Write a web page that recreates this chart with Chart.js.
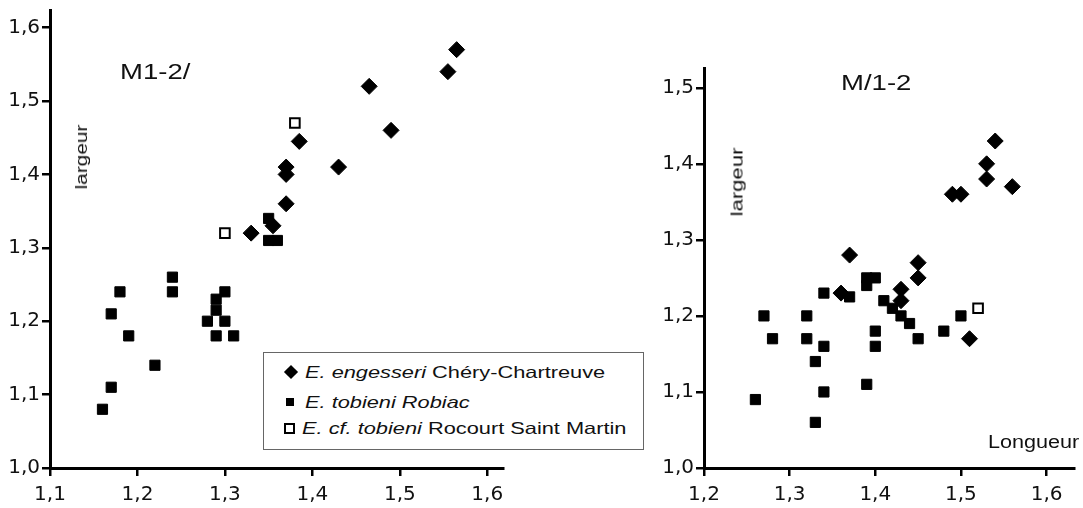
<!DOCTYPE html>
<html>
<head>
<meta charset="utf-8">
<script src="https://cdn.jsdelivr.net/npm/chart.js@4/dist/chart.umd.min.js"></script>
<style>
  html, body { margin: 0; padding: 0; background: #fff; }
  #wrap { position: relative; width: 1083px; height: 508px; overflow: hidden; background: #fff; }
  canvas { position: absolute; top: 0; }
  .txt { position: absolute; font-family: "Liberation Sans", Arial, sans-serif; color: #111; white-space: nowrap; line-height: 1; transform-origin: 0 0; }
  .rot { position: absolute; font-family: "Liberation Sans", Arial, sans-serif; color: #111; white-space: nowrap; line-height: 1; }
  #legend { position: absolute; left: 263px; top: 352px; width: 381px; height: 98px; border: 1px solid #666; background: #fff; box-sizing: border-box; }
  .lg { position: absolute; font-family: "Liberation Sans", Arial, sans-serif; font-size: 16.5px; line-height: 1; color: #111; white-space: nowrap; transform-origin: 0 0; transform: scaleX(1.32); }
  .mk { position: absolute; box-sizing: border-box; }
</style>
</head>
<body>
<div id="wrap">
  <canvas id="cLeft" width="560" height="508" style="left:0;width:560px;height:508px"></canvas>
  <canvas id="cRight" width="483" height="508" style="left:600px;width:483px;height:508px"></canvas>

  <div class="txt" style="left:120px;top:62px;font-size:21.5px;transform:scaleX(1.28)">M1-2/</div>
  <div class="txt" style="left:841px;top:73px;font-size:21.5px;transform:scaleX(1.28)">M/1-2</div>
  <div class="rot" style="left:82px;top:157px;font-size:16px;transform:translate(-50%,-50%) rotate(-90deg) scaleX(1.3)">largeur</div>
  <div class="rot" style="left:737px;top:182px;font-size:17px;transform:translate(-50%,-50%) rotate(-90deg) scaleX(1.3)">largeur</div>
  <div class="txt" style="left:988px;top:433px;font-size:18px;transform:scaleX(1.2)">Longueur</div>

  <div id="legend">
    <div class="mk" style="left:22px;top:14px;width:10px;height:10px;background:#000;transform:rotate(45deg)"></div>
    <div class="lg" style="left:41px;top:11px"><i>E. engesseri</i> Chéry-Chartreuve</div>
    <div class="mk" style="left:22px;top:45px;width:8px;height:8px;background:#000"></div>
    <div class="lg" style="left:41px;top:41px"><i>E. tobieni Robiac</i></div>
    <div class="mk" style="left:20px;top:70px;width:11px;height:11px;border:2px solid #000;background:#fff"></div>
    <div class="lg" style="left:38px;top:67px"><i>E. cf. tobieni</i> Rocourt Saint Martin</div>
  </div>
</div>
<script>
// ---- Data: M1-2/ (left panel) [longueur, largeur]
const m12Engesseri = [[1.565,1.57],[1.555,1.54],[1.465,1.52],[1.49,1.46],[1.43,1.41],[1.385,1.445],[1.37,1.41],[1.37,1.40],[1.37,1.36],[1.355,1.33],[1.33,1.32]];
const m12Tobieni = [[1.35,1.34],[1.35,1.31],[1.36,1.31],[1.24,1.26],[1.24,1.24],[1.18,1.24],[1.17,1.21],[1.19,1.18],[1.22,1.14],[1.17,1.11],[1.16,1.08],[1.30,1.24],[1.29,1.23],[1.29,1.215],[1.28,1.20],[1.30,1.20],[1.29,1.18],[1.31,1.18]];
const m12CfTobieni = [[1.38,1.47],[1.30,1.32]];

// ---- Data: M/1-2 (right panel)
const m_12Engesseri = [[1.54,1.43],[1.53,1.40],[1.53,1.38],[1.56,1.37],[1.49,1.36],[1.50,1.36],[1.37,1.28],[1.45,1.27],[1.45,1.25],[1.43,1.235],[1.43,1.22],[1.36,1.23],[1.51,1.17]];
const m_12Tobieni = [[1.26,1.09],[1.27,1.20],[1.28,1.17],[1.32,1.20],[1.32,1.17],[1.34,1.16],[1.33,1.14],[1.34,1.10],[1.33,1.06],[1.34,1.23],[1.37,1.225],[1.39,1.25],[1.39,1.24],[1.40,1.25],[1.40,1.18],[1.40,1.16],[1.39,1.11],[1.41,1.22],[1.42,1.21],[1.43,1.20],[1.44,1.19],[1.45,1.17],[1.48,1.18],[1.50,1.20]];
const m_12CfTobieni = [[1.52,1.21]];

// ---- Axis ranges / ticks
const leftXRange = [1.1, 1.618];
const leftYRange = [1.0, 1.624];
const rightXRange = [1.2, 1.632];
const rightYRange = [1.0, 1.526];
const tickStep = 0.1;

const toPts = arr => arr.map(p => ({x: p[0], y: p[1]}));
const fmt = v => Number(v).toFixed(1).replace('.', ',');
const tickFont = {family: 'DejaVu Sans', size: 20};

function datasets(eng, tob, cf) {
  return [
    {label: 'E. engesseri Chéry-Chartreuve', data: toPts(eng), pointStyle: 'rectRot', pointRadius: 8, backgroundColor: '#000', borderColor: '#000', borderWidth: 1},
    {label: 'E. tobieni Robiac', data: toPts(tob), pointStyle: 'rect', pointRadius: 7.2, backgroundColor: '#000', borderColor: '#000', borderWidth: 1},
    {label: 'E. cf. tobieni Rocourt Saint Martin', data: toPts(cf), pointStyle: 'rect', pointRadius: 6.8, backgroundColor: '#fff', borderColor: '#000', borderWidth: 2}
  ];
}

function axis(range, isY, fitSize, pad) {
  return {
    type: 'linear', min: range[0], max: range[1],
    ticks: {stepSize: tickStep, includeBounds: false, autoSkip: false, font: tickFont, color: '#111', padding: pad, callback: v => fmt(v), maxRotation: 0},
    grid: {display: true, drawOnChartArea: false, drawTicks: true, tickLength: 8, color: '#000', lineWidth: 2.5},
    border: {display: true, color: '#000', width: 3},
    afterFit: s => {
      if (isY) s.width = fitSize; else s.height = fitSize;
      s.paddingTop = 0; s.paddingBottom = 0; s.paddingLeft = 0; s.paddingRight = 0;
    }
  };
}

function make(id, ds, xr, yr, yWidth, padding) {
  return new Chart(document.getElementById(id), {
    type: 'scatter',
    data: {datasets: ds},
    options: {
      responsive: false, animation: false, devicePixelRatio: 1,
      layout: {padding: padding},
      plugins: {legend: {display: false}, tooltip: {enabled: false}},
      scales: {
        x: axis(xr, false, 40, 7),
        y: axis(yr, true, yWidth, 2)
      }
    }
  });
}

make('cLeft', datasets(m12Engesseri, m12Tobieni, m12CfTobieni), leftXRange, leftYRange, 50, {left: 0, right: 57, top: 10, bottom: 0});
make('cRight', datasets(m_12Engesseri, m_12Tobieni, m_12CfTobieni), rightXRange, rightYRange, 104, {left: 0, right: 1, top: 68, bottom: 0});
</script>
</body>
</html>
